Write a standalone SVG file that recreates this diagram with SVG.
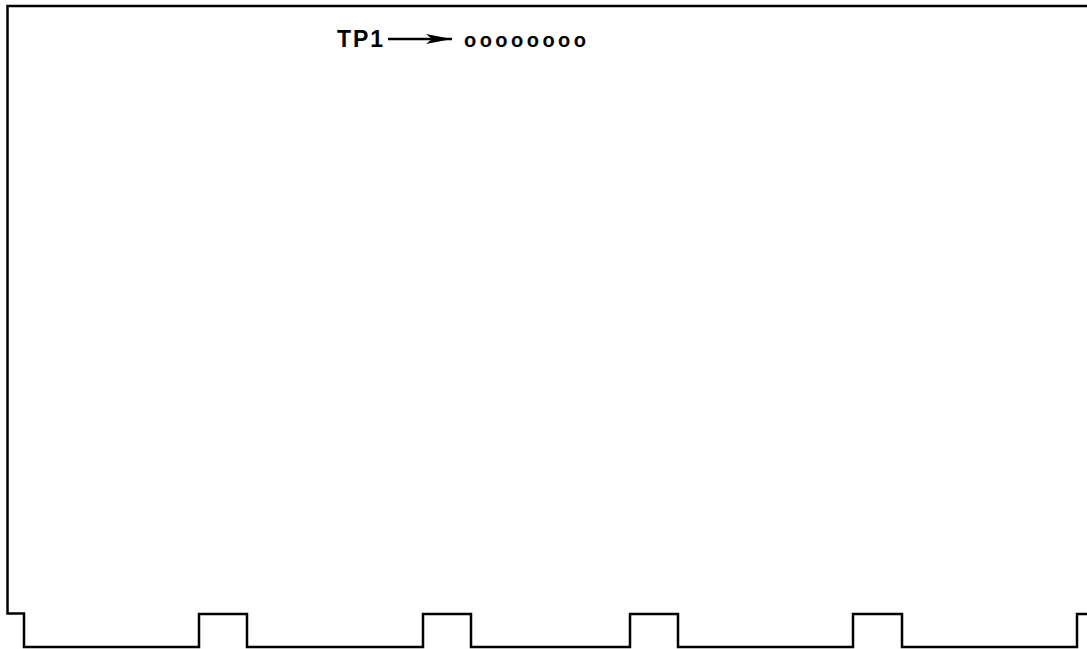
<svg xmlns="http://www.w3.org/2000/svg" width="1087" height="649" viewBox="0 0 1087 649">
<style>
.o{fill:none;stroke:#000;stroke-width:2.5;stroke-linejoin:miter}
.t{font-family:"Liberation Sans",Arial,sans-serif;font-weight:bold;fill:#000}
</style>
<defs>
<marker id="ah" markerWidth="26" markerHeight="10" refX="26" refY="5" orient="auto" markerUnits="userSpaceOnUse">
<path d="M0,0 L26,5 L0,10 L6,5 Z" fill="#000"/>
</marker>
</defs>
<rect width="1087" height="649" fill="#fff"/>
<g id="card">
<path class="o" d="M1088,6 H7.5 V613.5 H24 V647 H199 V614 H247 V647 H423 V614 H471 V647 H630 V614 H678 V647 H853 V614 H902 V647 H1077 V614 H1088"/>
</g>
<g id="label">
<text class="t" x="337" y="46.5" font-size="23" textLength="46" lengthAdjust="spacing">TP1</text>
<text class="t" x="464" y="46.5" font-size="20" textLength="122" lengthAdjust="spacing">oooooooo</text>
</g>
<g id="connectors">
<line x1="388" y1="39" x2="452" y2="39" stroke="#000" stroke-width="2.5" marker-end="url(#ah)"/>
</g>
</svg>
